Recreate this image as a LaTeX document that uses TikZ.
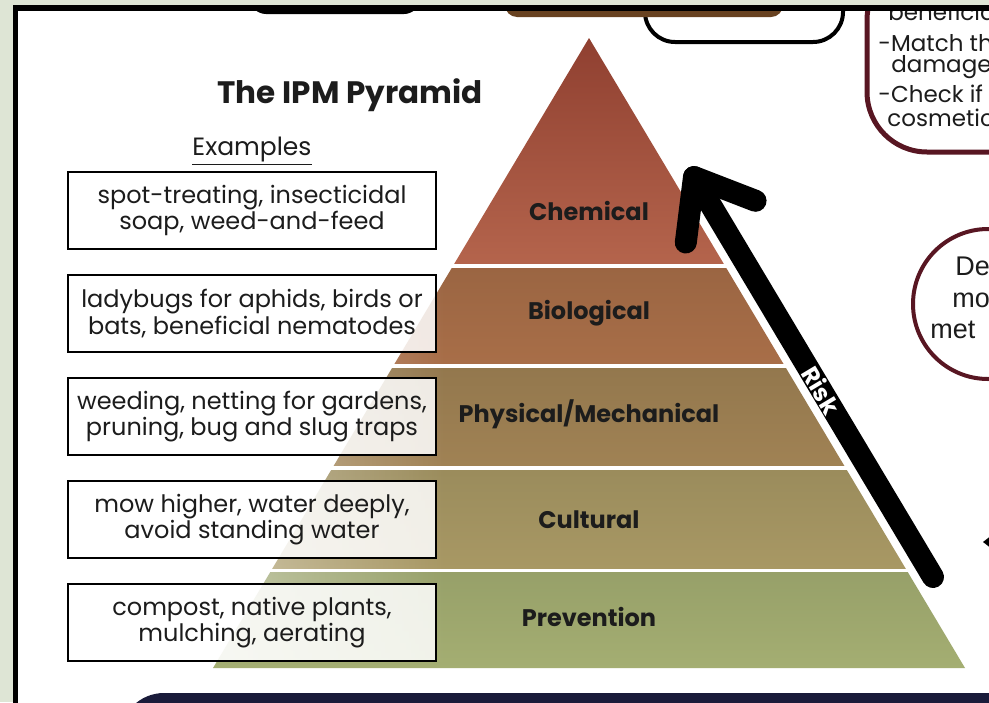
\documentclass[tikz,border=0pt]{standalone}
\usepackage{fontspec}
\setmainfont{Poppins}
\newfontfamily\circfont{Liberation Sans}
\usetikzlibrary{positioning, calc, fadings}

\definecolor{sage}{RGB}{222,229,213}
\definecolor{wine}{RGB}{88,22,34}
\definecolor{navyband}{RGB}{26,27,58}
\definecolor{toptan}{RGB}{104,66,32}
\definecolor{textgray}{RGB}{28,28,28}
\definecolor{chemclr}{RGB}{180,100,76}
\definecolor{bioclr}{RGB}{168,110,72}
\definecolor{physclr}{RGB}{160,130,84}
\definecolor{cultclr}{RGB}{168,152,100}
\definecolor{prevclr}{RGB}{164,174,114}

\begin{document}
\begin{tikzpicture}[x=0.5pt, y=-0.5pt,
    example/.style={draw, line width=1.2pt, fill=white, fill opacity=0.85, text opacity=1,
        minimum width=184pt, minimum height=38.3pt, inner sep=0pt, align=center,
        font=\fontsize{12}{11.5}\selectfont, text=textgray},
    layer/.style={font=\fontsize{12}{12}\selectfont\bfseries, text=textgray},
    side/.style={anchor=west, inner sep=0pt, font=\fontsize{11.5}{12}\selectfont, text=textgray},
    circtext/.style={anchor=base west, inner sep=0pt, font=\circfont\fontsize{13.5}{13.5}\selectfont, text=textgray},
    risk/.style={line width=11pt, line cap=round, line join=round},
    node distance=12pt
    ]
    \useasboundingbox (0,0) rectangle (989,702);
    \clip (0,0) rectangle (989,702);

    % frame
    \fill[sage] (0,0) rectangle (989,702);
    \fill[black] (13,5) rectangle (1000,720);
    \fill[white] (18,11) rectangle (1000,720);

    \begin{scope}
    \clip (18,11) rectangle (989,702);
    % cut-off shapes at the edges
    \fill[black, rounded corners=8] (250,-20) rectangle (420,14);
    \draw[line width=2pt, fill=white, rounded corners=15] (645,-20) rectangle (843,42);
    \fill[toptan, rounded corners=6] (505,-20) rectangle (783,17);
    \draw[wine, line width=2.5pt, fill=white, rounded corners=30] (867,-40) rectangle (1060,152);
    \node[side] (tip0) at (888,12) {beneficia};
    \node[side] (tip1) at (878,43) {-Match th};
    \node[side] (tip2) at (891,67) {damage};
    \node[side] (tip3) at (878,94) {-Check if};
    \node[side] (tip4) at (887,118) {cosmetic};
    \draw[wine, line width=2pt, fill=white] (988,304) circle (75);
    \node[circtext] (dec1) at (955,275) {De};
    \node[circtext] (dec2) at (952,307) {mo};
    \node[circtext] (dec3) at (930,338) {met};
    \fill[black] (983,542) -- (992,535) -- (992,549) -- cycle;
    \fill[navyband, rounded corners=22] (120,693) rectangle (1040,760);
    \end{scope}

    % Pyramid
    \coordinate (apex) at (589,38);
    \coordinate (baseL) at (213,668);
    \coordinate (baseR) at (965,668);
    \begin{scope}
    \clip (apex) -- (baseR) -- (baseL) -- cycle;
    \shade[top color=chemclr!85!red!75!black, bottom color=chemclr] (200,38) rectangle (980,263);
    \shade[top color=bioclr!92!black, bottom color=bioclr] (200,268) rectangle (980,363);
    \shade[top color=physclr!92!black, bottom color=physclr] (200,368) rectangle (980,465);
    \shade[top color=cultclr!92!black, bottom color=cultclr] (200,470) rectangle (980,568);
    \shade[top color=prevclr!92!black, bottom color=prevclr] (200,572) rectangle (980,668);
    \end{scope}
    \fill[white, opacity=0.45, path fading=east] (200,150) rectangle (445,662);

    % Examples column
    \node[font=\fontsize{15.5}{15.5}\selectfont\bfseries, text=textgray] (title) at (350,95) {The IPM Pyramid};
    \node[font=\fontsize{12.5}{12.5}\selectfont, text=textgray] (exhead) at (252,151) {\underline{Examples}};
    \node[example] (ex1) at (252,210.5) {spot-treating, insecticidal\\soap, weed-and-feed};
    \node[example, below=of ex1] (ex2) {ladybugs for aphids, birds or\\bats, beneficial nematodes};
    \node[example, below=of ex2] (ex3) {weeding, netting for gardens,\\pruning, bug and slug traps};
    \node[example, below=of ex3] (ex4) {mow higher, water deeply,\\avoid standing water};
    \node[example, below=of ex4] (ex5) {compost, native plants,\\mulching, aerating};

    % Layer names
    \node[layer] (chem) at (ex1 -| apex) {Chemical};
    \node[layer] (bio) at (ex2 -| apex) {Biological};
    \node[layer, yshift=1pt] (phys) at (ex3 -| apex) {Physical/Mechanical};
    \node[layer] (cult) at (ex4 -| apex) {Cultural};
    \node[layer, yshift=3pt] (prev) at (ex5 -| apex) {Prevention};

    % Risk arrow
    \coordinate (risktail) at (933,577);
    \coordinate (risktip) at (694,177);
    \draw[risk] (risktail) -- (risktip);
    \draw[risk] ($(risktip)!33pt!38:(risktail)$) -- (risktip) -- ($(risktip)!33pt!-38:(risktail)$);
    \node[font=\fontsize{12}{12}\selectfont\bfseries, text=white, inner sep=0pt, rotate=-59] (risk) at ($(risktail)!0.4675!(risktip)$) {Risk};
\end{tikzpicture}
\end{document}
